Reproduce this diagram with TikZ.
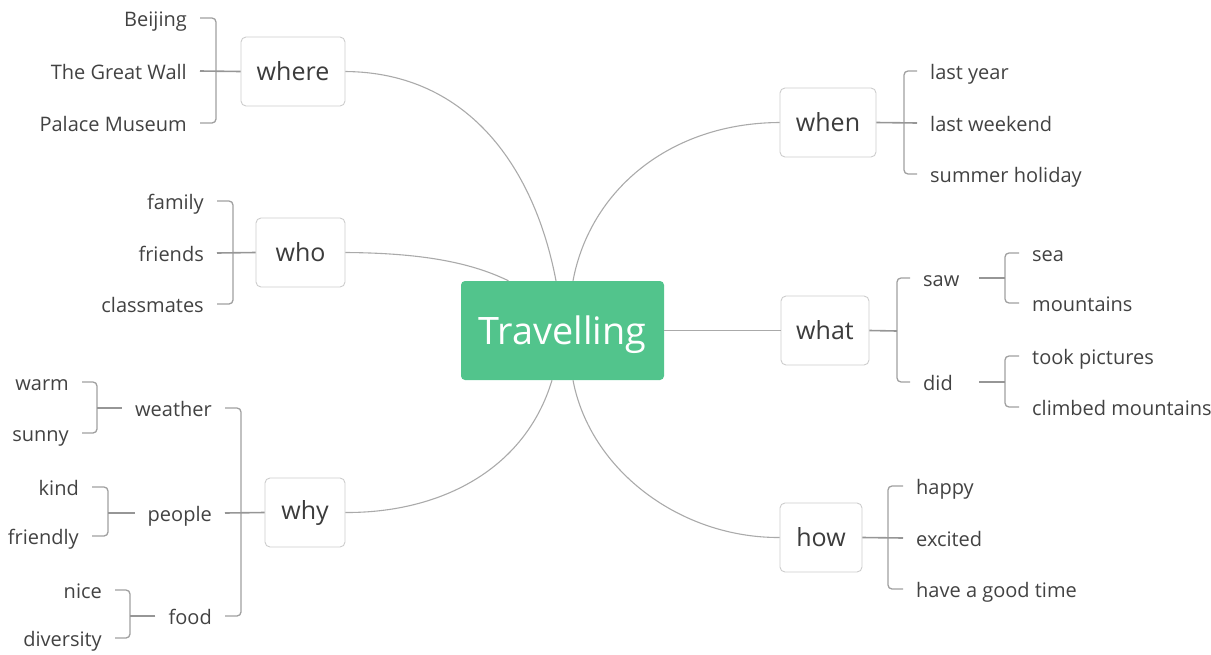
\documentclass[tikz,border=0pt]{standalone}
\usepackage{fontspec}
\setmainfont{Open Sans}
\definecolor{rootgreen}{RGB}{82,196,140}
\definecolor{boxgray}{RGB}{205,205,205}
\definecolor{txtgray}{RGB}{60,60,60}
\definecolor{leafgray}{RGB}{66,66,66}
\definecolor{curvegray}{RGB}{170,170,170}
\definecolor{brkgray}{RGB}{160,160,160}
\definecolor{stemgray}{RGB}{150,150,150}
\tikzset{
  root/.style={fill=rootgreen, rounded corners=4, text=white, inner sep=0,
    font=\fontsize{37.8}{40}\selectfont, minimum width=203, minimum height=99,
    text height=28, text depth=1},
  topic/.style={draw=boxgray, line width=0.9, rounded corners=5, fill=white, text=txtgray,
    inner sep=0, font=\fontsize{25}{28}\selectfont, minimum height=69},
  leaf/.style={text=leafgray, font=\fontsize{20}{22}\selectfont,
    text height=16, text depth=0, inner xsep=13, inner ysep=0},
  curve/.style={draw=curvegray, line width=1.1},
  brk/.style={draw=brkgray, line width=1.3, rounded corners=4},
  stem/.style={draw=stemgray, line width=1.6},
}
\begin{document}
\begin{tikzpicture}[x=1pt,y=-1pt]
\useasboundingbox (0,0) rectangle (1211,654);
% root
\node[root] (T) at (562.5,330.5) {Travelling};
% topics
\node[topic, minimum width=104] (where) at (293,71.5) {where};
\node[topic, minimum width=89] (who) at (300.5,252.5) {who};
\node[topic, minimum width=80] (why) at (305,512.5) {why};
\node[topic, minimum width=96] (when) at (828,122.5) {when};
\node[topic, minimum width=88] (what) at (825,330.5) {what};
\node[topic, minimum width=82] (how) at (821,537.5) {how};
% central connectors
\draw[curve] (where.east) .. controls (470,72.5) and (535,170) .. ([xshift=-6.5]T.north);
\draw[curve] (who.east) .. controls (420,253) and (470,262) .. ([xshift=-54]T.north);
\draw[curve] (when.west) .. controls (670,123) and (590,190) .. ([xshift=10.5]T.north);
\draw[curve] (T.east) -- (what.west);
\draw[curve] (why.east) .. controls (440,513) and (525,470) .. ([xshift=-10.5]T.south);
\draw[curve] (how.west) .. controls (680,538) and (590,470) .. ([xshift=10.5]T.south);
% where
\node[leaf, anchor=east] (bj) at (200,18) {Beijing};
\node[leaf, anchor=east] (gw) at (200,71) {The Great Wall};
\node[leaf, anchor=east] (pm) at (200,123) {Palace Museum};
\coordinate (whereb) at (216,71);
\draw[brk] (bj.east) -| (whereb) |- (pm.east);
\draw[stem] (where.west) -- (gw.east);
% who
\node[leaf, anchor=east] (fam) at (217,201) {family};
\node[leaf, anchor=east] (fri) at (217,253) {friends};
\node[leaf, anchor=east] (cls) at (217,304) {classmates};
\coordinate (whob) at (233,253);
\draw[brk] (fam.east) -| (whob) |- (cls.east);
\draw[stem] (who.west) -- (fri.east);
% when
\node[leaf, anchor=west] (ly) at (917,71) {last year};
\node[leaf, anchor=west] (lw) at (917,123) {last weekend};
\node[leaf, anchor=west] (sh) at (917,174) {summer holiday};
\coordinate (whenb) at (904,123);
\draw[brk] (ly.west) -| (whenb) |- (sh.west);
\draw[stem] (when.east) -- (lw.west);
% what
\node[leaf, anchor=west] (saw) at (910,278) {saw};
\node[leaf, anchor=west] (did) at (910,382) {did};
\coordinate (whatb) at (897,331);
\draw[brk] (saw.west) -| (whatb) |- (did.west);
\draw[stem] (what.east) -- (whatb);
% saw
\node[leaf, anchor=west] (sea) at (1019,253) {sea};
\node[leaf, anchor=west] (mnt) at (1019,303) {mountains};
\coordinate (sawb) at (1005,278);
\draw[brk] (sea.west) -| (sawb) |- (mnt.west);
\draw[stem] (sawb) -- ++(-26,0);
% did
\node[leaf, anchor=west] (tp) at (1019,356) {took pictures};
\node[leaf, anchor=west] (cm) at (1019,407) {climbed mountains};
\coordinate (didb) at (1005,382);
\draw[brk] (tp.west) -| (didb) |- (cm.west);
\draw[stem] (didb) -- ++(-26,0);
% how
\node[leaf, anchor=west] (hap) at (903,486) {happy};
\node[leaf, anchor=west] (exc) at (903,538) {excited};
\node[leaf, anchor=west] (hgt) at (903,589) {have a good time};
\coordinate (howb) at (888,538);
\draw[brk] (hap.west) -| (howb) |- (hgt.west);
\draw[stem] (how.east) -- (exc.west);
% why
\node[leaf, anchor=east] (wea) at (225,408) {weather};
\node[leaf, anchor=east] (peo) at (225,513) {people};
\node[leaf, anchor=east] (food) at (225,616) {food};
\coordinate (whyb) at (241,513);
\draw[brk] (wea.east) -| (whyb) |- (food.east);
\draw[stem] (why.west) -- (peo.east);
% weather
\node[leaf, anchor=east] (warm) at (82,382) {warm};
\node[leaf, anchor=east] (sun) at (82,433) {sunny};
\coordinate (weab) at (97,408);
\draw[brk] (warm.east) -| (weab) |- (sun.east);
\draw[stem] (wea.west) -- (weab);
% people
\node[leaf, anchor=east] (kind) at (92,487) {kind};
\node[leaf, anchor=east] (frd) at (92,536) {friendly};
\coordinate (peob) at (108,513);
\draw[brk] (kind.east) -| (peob) |- (frd.east);
\draw[stem] (peo.west) -- (peob);
% food
\node[leaf, anchor=east] (nice) at (115,590) {nice};
\node[leaf, anchor=east] (div) at (115,638) {diversity};
\coordinate (foodb) at (130,616);
\draw[brk] (nice.east) -| (foodb) |- (div.east);
\draw[stem] (food.west) -- (foodb);
\end{tikzpicture}
\end{document}
